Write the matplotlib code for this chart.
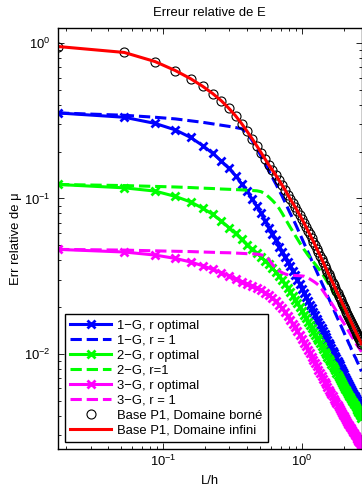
import matplotlib
matplotlib.use("Agg")
import matplotlib.pyplot as plt

plt.rcParams['font.family'] = ['Liberation Sans', 'DejaVu Sans']
plt.rcParams['mathtext.fontset'] = 'custom'
plt.rcParams['mathtext.rm'] = 'Liberation Sans'
plt.rcParams['mathtext.it'] = 'Liberation Sans:italic'
plt.rcParams['mathtext.bf'] = 'Liberation Sans:bold'

# L/h values
L_h = [0.0175, 0.0525, 0.0875, 0.1225, 0.1575, 0.1925, 0.2275, 0.2625, 0.2975, 0.3325,
       0.3675, 0.4025, 0.4375, 0.4725, 0.5075, 0.5425, 0.5775, 0.6125, 0.6475, 0.6825,
       0.7175, 0.7525, 0.7875, 0.8225,
       0.8575, 0.8925, 0.9275, 0.9625, 0.9975, 1.0325, 1.0675, 1.1025, 1.1375, 1.1725,
       1.2075, 1.2425, 1.2775, 1.3125, 1.3475, 1.3825, 1.4175, 1.4525, 1.4875, 1.5225,
       1.5575, 1.5925, 1.6275, 1.6625, 1.6975, 1.7325, 1.7675, 1.8025, 1.8375, 1.8725,
       1.9075, 1.9425, 1.9775, 2.0125, 2.0475, 2.0825, 2.1175, 2.1525, 2.1875, 2.2225,
       2.2575, 2.2925, 2.3275, 2.3625, 2.3975, 2.4325, 2.4675, 2.5025, 2.5375, 2.5725,
       2.6075, 2.6425, 2.6775]

g1_opt = [0.355, 0.333, 0.304, 0.276, 0.247, 0.219, 0.195, 0.174, 0.156, 0.140,
          0.124, 0.111, 0.099, 0.089, 0.080, 0.072, 0.065, 0.059, 0.054, 0.049,
          0.0455, 0.042, 0.039, 0.0365,
          0.0342, 0.032, 0.0299, 0.028, 0.0263, 0.0247, 0.0233, 0.0219, 0.0207, 0.0196,
          0.0186, 0.0177, 0.0168, 0.016, 0.0153, 0.0146, 0.014, 0.0134, 0.0128, 0.0123,
          0.0118, 0.01135, 0.0109, 0.01048, 0.01009, 0.0097, 0.00935, 0.00902, 0.0087, 0.00841,
          0.00812, 0.00785, 0.0076, 0.00736, 0.00712, 0.0069, 0.00669, 0.00649, 0.0063, 0.00612,
          0.00595, 0.00579, 0.00562, 0.00547, 0.00533, 0.00519, 0.00505, 0.00492, 0.0048, 0.00468,
          0.00457, 0.00446, 0.00435]

g1_r1 = [0.355, 0.343, 0.333, 0.325, 0.316, 0.309, 0.302, 0.296, 0.291, 0.286,
         0.281, 0.263, 0.236, 0.210, 0.187, 0.167, 0.150, 0.136, 0.124, 0.113,
         0.104, 0.095, 0.087, 0.080,
         0.0743, 0.069, 0.064, 0.0593, 0.0553, 0.0516, 0.0483, 0.0452, 0.0425, 0.040,
         0.0377, 0.0356, 0.0337, 0.0319, 0.0303, 0.0288, 0.0274, 0.0261, 0.0249, 0.0237,
         0.0227, 0.0217, 0.0208, 0.0199, 0.0191, 0.0183, 0.0176, 0.0169, 0.0163, 0.0157,
         0.01515, 0.0146, 0.0141, 0.0136, 0.0131, 0.0127, 0.0123, 0.0119, 0.0115, 0.0112,
         0.0108, 0.0105, 0.0102, 0.0099, 0.0096, 0.0094, 0.0091, 0.00886, 0.00863, 0.0084,
         0.00816, 0.00793, 0.0077]

g2_opt = [0.123, 0.117, 0.1115, 0.103, 0.095, 0.0865, 0.079, 0.0715, 0.065, 0.0595,
          0.0545, 0.0505, 0.047, 0.0443, 0.0420, 0.0398, 0.0376, 0.0355, 0.0335, 0.0316,
          0.0298, 0.0281, 0.0265, 0.0250,
          0.0236, 0.0223, 0.0211, 0.0199, 0.0189, 0.0179, 0.017, 0.0161, 0.0153, 0.0146,
          0.0139, 0.0133, 0.0127, 0.0122, 0.0117, 0.0112, 0.0107, 0.0103, 0.0099, 0.0096,
          0.00927, 0.00894, 0.00863, 0.00835, 0.00807, 0.00781, 0.00757, 0.00734, 0.00711, 0.0069,
          0.0067, 0.0065, 0.00632, 0.00615, 0.00598, 0.00582, 0.00567, 0.00552, 0.00538, 0.00524,
          0.00511, 0.00499, 0.00487, 0.00476, 0.00465, 0.00454, 0.00444, 0.00434, 0.00424, 0.00415,
          0.00406, 0.00397, 0.00389]

g2_r1 = [0.123, 0.121, 0.1195, 0.1185, 0.1175, 0.1165, 0.1158, 0.115, 0.1145, 0.114,
         0.1135, 0.113, 0.1125, 0.112, 0.1105, 0.107, 0.102, 0.097, 0.092, 0.0865,
         0.0805, 0.0748, 0.0697, 0.0652,
         0.0614, 0.0578, 0.0547, 0.0518, 0.0493, 0.047, 0.0451, 0.0432, 0.0417, 0.0402,
         0.039, 0.0378, 0.0366, 0.0355, 0.0344, 0.0333, 0.0322, 0.0311, 0.030, 0.029,
         0.028, 0.0271, 0.0262, 0.0253, 0.0245, 0.0237, 0.0229, 0.0222, 0.0215, 0.0208,
         0.0202, 0.0195, 0.0189, 0.0183, 0.0177, 0.0172, 0.0166, 0.0161, 0.0156, 0.0152,
         0.0147, 0.0143, 0.0139, 0.0135, 0.0131, 0.0128, 0.0124, 0.0121, 0.0117, 0.0114,
         0.0111, 0.0108, 0.0105]

g3_opt = [0.047, 0.0452, 0.0432, 0.0411, 0.039, 0.0369, 0.0349, 0.0333, 0.0318, 0.0304,
          0.0292, 0.0282, 0.0273, 0.0265, 0.0257, 0.0248, 0.0238, 0.0228, 0.0218, 0.0207,
          0.0196, 0.0185, 0.0175, 0.0165,
          0.0156, 0.0148, 0.014, 0.0132, 0.0125, 0.0118, 0.0112, 0.0106, 0.0101, 0.0096,
          0.00914, 0.0087, 0.00829, 0.0079, 0.00754, 0.0072, 0.00689, 0.0066, 0.00635, 0.0061,
          0.00589, 0.00569, 0.0055, 0.00532, 0.00515, 0.00499, 0.00484, 0.00469, 0.00455, 0.00442,
          0.00429, 0.00417, 0.00406, 0.00395, 0.00385, 0.00375, 0.00365, 0.00356, 0.00347, 0.00339,
          0.00331, 0.00323, 0.00315, 0.00308, 0.00301, 0.00295, 0.00288, 0.00282, 0.00276, 0.0027,
          0.00265, 0.00259, 0.00254]

g3_r1 = [0.047, 0.0465, 0.046, 0.0457, 0.0455, 0.0452, 0.045, 0.0448, 0.0447, 0.0445,
         0.0443, 0.0441, 0.044, 0.0438, 0.0434, 0.0425, 0.0405, 0.0375, 0.0355, 0.0342,
         0.0333, 0.0327, 0.0323, 0.0321,
         0.032, 0.0319, 0.03185, 0.0318, 0.0317, 0.0316, 0.0312, 0.0308, 0.0303, 0.0298,
         0.0293, 0.0288, 0.02825, 0.0277, 0.0269, 0.0262, 0.0254, 0.0246, 0.0238, 0.0231,
         0.02245, 0.02182, 0.0212, 0.02058, 0.01998, 0.0194, 0.01885, 0.01832, 0.0178, 0.01732,
         0.01685, 0.0164, 0.016, 0.0156, 0.0152, 0.0148, 0.01446, 0.0141, 0.01376, 0.01343,
         0.0131, 0.01283, 0.01256, 0.0123, 0.01203, 0.01176, 0.0115, 0.0113, 0.0111, 0.0109,
         0.0107, 0.0105, 0.0103]

base_infini = [0.95, 0.87, 0.76, 0.665, 0.59, 0.527, 0.473, 0.425, 0.38, 0.34,
               0.303, 0.27, 0.242, 0.218, 0.197, 0.179, 0.164, 0.152, 0.141, 0.131,
               0.122, 0.114, 0.106, 0.099,
               0.0933, 0.088, 0.0828, 0.078, 0.0736, 0.0695, 0.0656, 0.062, 0.0587, 0.0555,
               0.0527, 0.050, 0.0474, 0.045, 0.0429, 0.0408, 0.0389, 0.037, 0.0354, 0.0338,
               0.0324, 0.0311, 0.0298, 0.0287, 0.0276, 0.0265, 0.0255, 0.0246, 0.0237, 0.0229,
               0.0221, 0.0213, 0.0206, 0.0200, 0.0193, 0.0187, 0.0181, 0.0175, 0.0170, 0.0165,
               0.0160, 0.01555, 0.0151, 0.0147, 0.0143, 0.0139, 0.0135, 0.0132, 0.0128, 0.0125,
               0.0122, 0.0119, 0.0116]

base_borne = list(base_infini)

labels = ['1\u2212G, r optimal', '1\u2212G, r = 1', '2\u2212G, r optimal', '2\u2212G, r=1',
          '3\u2212G, r optimal', '3\u2212G, r = 1', 'Base P1, Domaine born\u00e9',
          'Base P1, Domaine infini']

fig = plt.figure(figsize=(3.62, 4.88), dpi=100)
ax = fig.add_axes([58 / 362, 39 / 488, (361.5 - 58) / 362, (449 - 28) / 488])

lw = 2.2
mk = dict(marker='x', markersize=6, markeredgewidth=2.0)
ax.plot(L_h, g1_opt, color=(0, 0, 1), lw=lw, label=labels[0], **mk)
ax.plot(L_h, g1_r1, color=(0, 0, 1), lw=lw, ls='--', label=labels[1])
ax.plot(L_h, g2_opt, color=(0, 1, 0), lw=lw, label=labels[2], **mk)
ax.plot(L_h, g2_r1, color=(0, 1, 0), lw=lw, ls='--', label=labels[3])
ax.plot(L_h, g3_opt, color=(1, 0, 1), lw=lw, label=labels[4], **mk)
ax.plot(L_h, g3_r1, color=(1, 0, 1), lw=lw, ls='--', label=labels[5])
ax.plot(L_h, base_borne, ls='none', marker='o', markersize=6.5, markerfacecolor='none',
        markeredgecolor='k', markeredgewidth=0.8, label=labels[6])
ax.plot(L_h, base_infini, color=(1, 0, 0), lw=lw, label=labels[7])

ax.set_xscale('log')
ax.set_yscale('log')
ax.set_xlim(0.0175, 2.68)
ax.set_ylim(0.00244, 1.25)

ax.tick_params(which='both', direction='in', top=True, right=True, labelsize=9.4)
ax.tick_params(which='major', length=4, width=0.6)
ax.tick_params(which='minor', length=2, width=0.6)
ax.tick_params(axis='y', which='major', pad=5.5)
for s in ax.spines.values():
    s.set_linewidth(1.0)

ax.set_title('Erreur relative de E', fontsize=9.4, pad=9)
ax.set_xlabel('L/h', fontsize=9.4, labelpad=4)
ax.set_ylabel('Err relative de \u03bc', fontsize=9.4, labelpad=1)

leg = ax.legend(loc='lower left', fontsize=9.4, handlelength=3.1, handletextpad=0.45,
                labelspacing=0.22, borderpad=0.45, borderaxespad=0.5, fancybox=False,
                edgecolor='black', framealpha=1, numpoints=1)
leg.get_frame().set_linewidth(1.0)

fig.savefig('out.png', dpi=100)
